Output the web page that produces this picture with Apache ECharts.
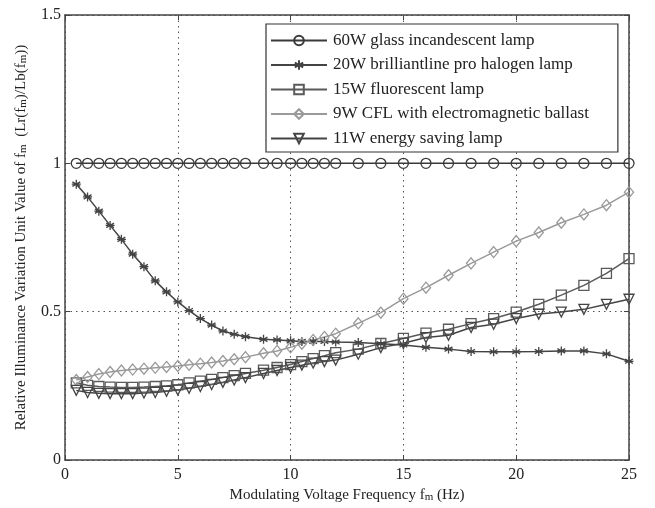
<!DOCTYPE html>
<html>
<head>
<meta charset="utf-8">
<script src="https://cdn.jsdelivr.net/npm/echarts@6/dist/echarts.min.js"></script>
<style>html,body{margin:0;padding:0;background:#fff;}#c{width:655px;height:508px;}</style>
</head>
<body>
<div id="c"></div>
<script>
var freq = [0.5,1,1.5,2,2.5,3,3.5,4,4.5,5,5.5,6,6.5,7,7.5,8,8.8,9.4,10,10.5,11,11.5,12,13,14,15,16,17,18,19,20,21,22,23,24,25];
var incandescent = [1,1,1,1,1,1,1,1,1,1,1,1,1,1,1,1,1,1,1,1,1,1,1,1,1,1,1,1,1,1,1,1,1,1,1,1];
var halogen = [0.93,0.887,0.839,0.791,0.744,0.694,0.652,0.604,0.567,0.533,0.504,0.477,0.455,0.435,0.424,0.416,0.407,0.405,0.402,0.40,0.40,0.40,0.398,0.396,0.392,0.388,0.38,0.374,0.366,0.365,0.365,0.366,0.368,0.368,0.358,0.333];
var fluorescent = [0.26,0.252,0.248,0.246,0.245,0.245,0.246,0.248,0.25,0.254,0.26,0.266,0.272,0.278,0.285,0.292,0.303,0.312,0.322,0.332,0.342,0.352,0.362,0.374,0.393,0.41,0.428,0.441,0.46,0.477,0.499,0.525,0.556,0.589,0.629,0.679];
var cfl = [0.27,0.28,0.29,0.297,0.302,0.305,0.308,0.311,0.314,0.317,0.321,0.325,0.329,0.334,0.34,0.347,0.36,0.368,0.38,0.392,0.405,0.415,0.426,0.461,0.497,0.544,0.581,0.623,0.663,0.701,0.738,0.767,0.80,0.828,0.859,0.903];
var energySaving = [0.235,0.228,0.225,0.224,0.224,0.224,0.226,0.228,0.232,0.236,0.242,0.248,0.255,0.262,0.27,0.278,0.292,0.302,0.312,0.32,0.327,0.332,0.337,0.357,0.379,0.394,0.413,0.421,0.447,0.458,0.477,0.492,0.499,0.508,0.525,0.542];
var seriesNames = ['60W glass incandescent lamp','20W brilliantline pro halogen lamp','15W fluorescent lamp','9W CFL with electromagnetic ballast','11W energy saving lamp'];
var xTicks = [0,5,10,15,20,25];
var yTicks = [0,0.5,1,1.5];

function pairs(ys){ return freq.map(function(x,i){ return [x, ys[i]]; }); }
var FONT = 'Liberation Serif';
var starPath = 'path://M0,-5L0,5M-4.33,-2.5L4.33,2.5M-4.33,2.5L4.33,-2.5M-5,0L5,0';
var diamondPath = 'path://M0,-6L5,0L0,6L-5,0Z';

function mk(name, data, color, symbol, size, rotate){
  return {
    name: name, type: 'line', data: pairs(data), symbol: symbol, symbolSize: size,
    symbolRotate: rotate || 0, symbolKeepAspect: true, showAllSymbol: true,
    lineStyle: {color: color, width: 1.5},
    itemStyle: {color: 'rgba(255,255,255,0)', borderColor: color, borderWidth: 1.3},
    emphasis: {disabled: true}, animation: false
  };
}

var chart = echarts.init(document.getElementById('c'), null, {renderer: 'canvas'});
var subRich = {s: {fontFamily: FONT, fontSize: 11, color: '#222', verticalAlign: 'bottom'}};
chart.setOption({
  backgroundColor: '#fff',
  animation: false,
  grid: {left: 65, right: 26, top: 15, bottom: 47},
  legend: {
    orient: 'vertical', left: 266, top: 24,
    backgroundColor: '#fff', borderColor: '#333', borderWidth: 1.2,
    padding: [8, 29, 5, 4], itemGap: 7.5, itemWidth: 56, itemHeight: 12,
    textStyle: {fontFamily: FONT, fontSize: 17, color: '#222', padding: [0,0,0,1]},
    data: seriesNames
  },
  xAxis: [
    {
      type: 'value', min: 0, max: 25, interval: 5, position: 'bottom',
      name: 'Modulating Voltage Frequency f{s|m} (Hz)', nameLocation: 'middle', nameGap: 27,
      nameTextStyle: {fontFamily: FONT, fontSize: 15, color: '#222', rich: subRich},
      axisLine: {show: true, onZero: false, lineStyle: {color: '#444', width: 1.5}},
      axisTick: {show: true, inside: true, length: 5, lineStyle: {color: '#444'}},
      axisLabel: {fontFamily: FONT, fontSize: 16, color: '#222', margin: 7},
      splitLine: {show: true, lineStyle: {color: '#555', type: [1.5, 4], width: 1}}
    },
    {
      type: 'value', min: 0, max: 25, interval: 5, position: 'top',
      axisLine: {show: true, onZero: false, lineStyle: {color: '#444', width: 1.5}},
      axisTick: {show: true, inside: true, length: 5, lineStyle: {color: '#444'}},
      axisLabel: {show: false}, splitLine: {show: false}
    }
  ],
  yAxis: [
    {
      type: 'value', min: 0, max: 1.5, interval: 0.5, position: 'left',
      name: 'Relative Illuminance Variation Unit Value of f{s|m}  (Lr(f{s|m})/Lb(f{s|m}))',
      nameLocation: 'middle', nameGap: 36,
      nameTextStyle: {fontFamily: FONT, fontSize: 15, color: '#222', rich: subRich},
      axisLine: {show: true, onZero: false, lineStyle: {color: '#444', width: 1.5}},
      axisTick: {show: true, inside: true, length: 5, lineStyle: {color: '#444'}},
      axisLabel: {fontFamily: FONT, fontSize: 16, color: '#222', margin: 4,
        formatter: function(v){ return String(v); }},
      splitLine: {show: true, lineStyle: {color: '#555', type: [1.5, 4], width: 1}}
    },
    {
      type: 'value', min: 0, max: 1.5, interval: 0.5, position: 'right',
      axisLine: {show: true, onZero: false, lineStyle: {color: '#444', width: 1.5}},
      axisTick: {show: true, inside: true, length: 5, lineStyle: {color: '#444'}},
      axisLabel: {show: false}, splitLine: {show: false}
    }
  ],
  series: [
    mk(seriesNames[0], incandescent, '#3a3a3a', 'circle', 10),
    mk(seriesNames[1], halogen, '#444444', starPath, 9),
    mk(seriesNames[2], fluorescent, '#5a5a5a', 'rect', 10),
    mk(seriesNames[3], cfl, '#9a9a9a', diamondPath, 11),
    mk(seriesNames[4], energySaving, '#444444', 'triangle', 10, 180)
  ]
});
</script>
</body>
</html>
